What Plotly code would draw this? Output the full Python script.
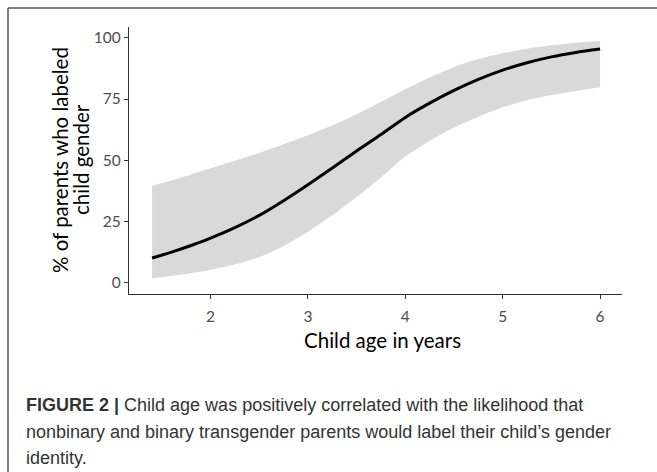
import plotly.graph_objects as go

# Child age (years) at which the fitted curve and its confidence band are read
age = [1.4, 1.6, 1.8, 2.0, 2.25, 2.5, 2.75, 3.0, 3.25, 3.5, 3.75,
       4.0, 4.25, 4.5, 4.75, 5.0, 5.25, 5.5, 5.75, 6.0]

# Predicted % of parents who labeled child gender
pct_fit = [10.1, 12.5, 15.2, 18.2, 22.5, 27.5, 33.5, 40.0, 46.8, 53.8, 60.5,
           67.5, 73.3, 78.5, 83.0, 86.8, 89.8, 92.2, 94.0, 95.4]

# Confidence band around the prediction
pct_upper = [39.5, 41.8, 44.2, 46.7, 49.8, 53.0, 56.5, 60.2, 64.2, 68.8, 73.8,
             79.0, 83.8, 88.0, 91.3, 93.7, 95.5, 96.9, 98.0, 98.8]
pct_lower = [1.8, 2.8, 3.9, 5.2, 7.5, 10.5, 15.0, 20.8, 27.5, 35.0, 43.0,
             51.5, 58.0, 63.3, 67.8, 71.6, 74.5, 76.6, 78.3, 79.8]

x_ticks = [2, 3, 4, 5, 6]
y_ticks = [0, 25, 50, 75, 100]

x_title = "Child age in years"
y_title_lines = ["% of parents who labeled", "child gender"]
caption_lines = [
    "<b>FIGURE 2 |</b> Child age was positively correlated with the likelihood that",
    "nonbinary and binary transgender parents would label their child\u2019s gender",
    "identity.",
]

W, H = 657, 472
L, R, T, B = 129, 35, 27, 178
PW, PH = W - L - R, H - T - B


def px_x(px):
    return (px - L) / PW


def px_y(py):
    return (H - B - py) / PH


fig = go.Figure()

# Confidence ribbon: lower edge, then upper edge filled down to it
fig.add_trace(go.Scatter(
    x=age, y=pct_lower, mode="lines",
    line=dict(width=0, shape="spline", smoothing=0.8, color="#d9d9d9"),
    hoverinfo="skip", showlegend=False,
))
fig.add_trace(go.Scatter(
    x=age, y=pct_upper, mode="lines", fill="tonexty", fillcolor="#d9d9d9",
    line=dict(width=0, shape="spline", smoothing=0.8, color="#d9d9d9"),
    hoverinfo="skip", showlegend=False,
))
# Fitted curve
fig.add_trace(go.Scatter(
    x=age, y=pct_fit, mode="lines",
    line=dict(color="black", width=3, shape="spline", smoothing=0.8),
    showlegend=False,
))

axis_font = "Lato, 'Open Sans', sans-serif"
axis_common = dict(
    showline=True, linecolor="#333333", linewidth=1.1,
    ticks="outside", ticklen=4, tickwidth=1.1, tickcolor="#333333",
    showgrid=False, zeroline=False,
    tickfont=dict(family=axis_font, size=15.5, color="#4d4d4d"),
)

fig.update_xaxes(range=[1.163, 6.225], tickvals=x_ticks,
                 ticktext=[str(v) for v in x_ticks], ticklabelstandoff=4,
                 **axis_common)
fig.update_yaxes(range=[-4.6, 104.4], tickvals=y_ticks,
                 ticktext=[str(v) for v in y_ticks], **axis_common)

annotations = [
    dict(text=x_title, x=px_x(382), y=px_y(340), xref="paper", yref="paper",
         xanchor="center", yanchor="middle", showarrow=False,
         font=dict(family=axis_font, size=20.5, color="black")),
    dict(text=y_title_lines[0], x=px_x(60), y=px_y(160), xref="paper", yref="paper",
         xanchor="center", yanchor="middle", showarrow=False, textangle=-90,
         font=dict(family=axis_font, size=20.5, color="black")),
    dict(text=y_title_lines[1], x=px_x(81), y=px_y(160), xref="paper", yref="paper",
         xanchor="center", yanchor="middle", showarrow=False, textangle=-90,
         font=dict(family=axis_font, size=20.5, color="black")),
]

cap_font = "'Liberation Sans', Arial, sans-serif"
for i, line in enumerate(caption_lines):
    annotations.append(dict(
        text=line, x=px_x(24), y=px_y(405 + i * 26.6), xref="paper", yref="paper",
        xanchor="left", yanchor="middle", showarrow=False, align="left",
        font=dict(family=cap_font, size=18, color="#333333"),
    ))

# Figure frame: left and top rules
shapes = [
    dict(type="line", xref="paper", yref="paper",
         x0=px_x(8), x1=px_x(8), y0=px_y(8), y1=px_y(H),
         line=dict(color="#555555", width=1.5)),
    dict(type="line", xref="paper", yref="paper",
         x0=px_x(8), x1=px_x(W), y0=px_y(8), y1=px_y(8),
         line=dict(color="#555555", width=1.5)),
]

fig.update_layout(
    width=W, height=H,
    margin=dict(l=L, r=R, t=T, b=B, pad=0),
    paper_bgcolor="white", plot_bgcolor="white",
    annotations=annotations, shapes=shapes,
    showlegend=False,
)

fig.write_html("out.html", config={"displayModeBar": False})
